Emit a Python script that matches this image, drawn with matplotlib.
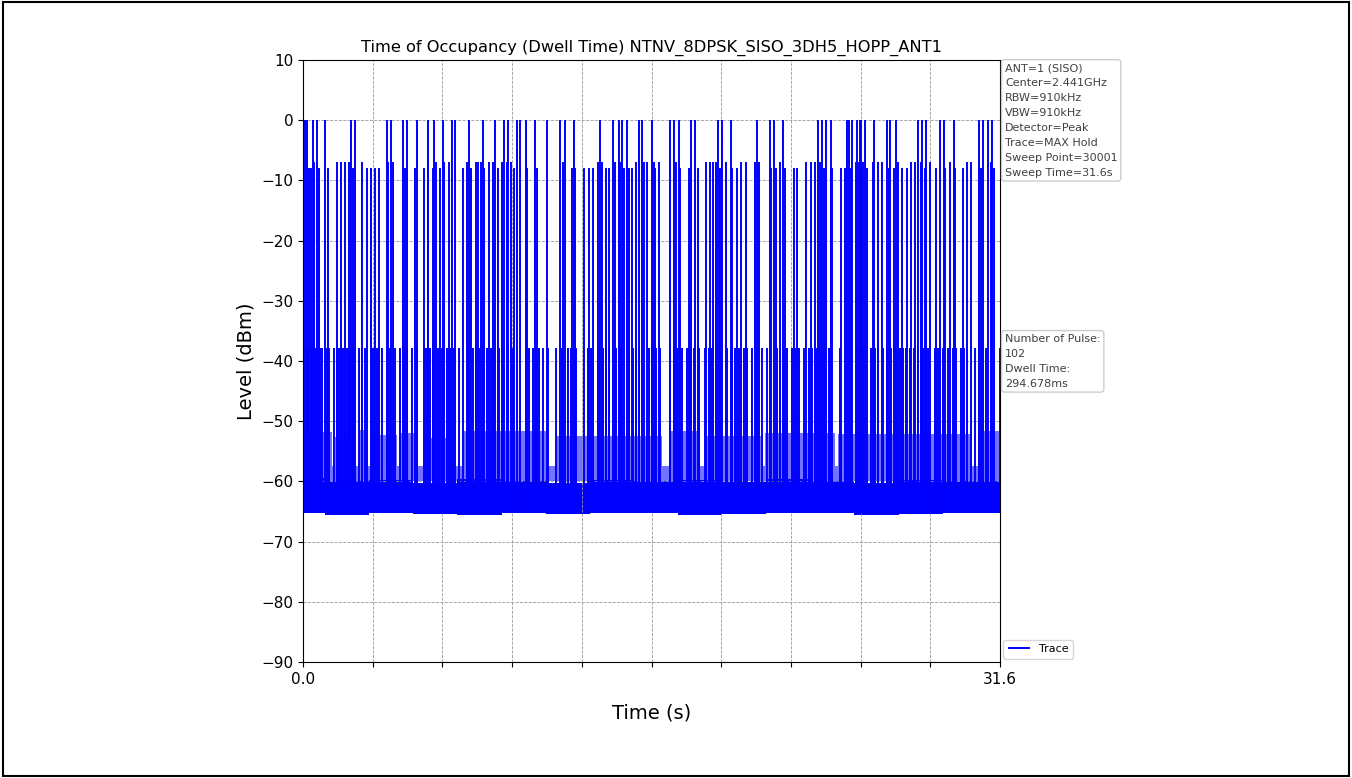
import numpy as np
import matplotlib
matplotlib.use('Agg')
import matplotlib.pyplot as plt
from matplotlib.patches import Rectangle

# Данные трассы (время в секундах, уровни в dBm)
sweep_time = 31.6

# импульсы на уровне 0 dBm
t_0dbm = [0.076, 0.196, 0.438, 0.650, 0.997, 2.161, 2.357, 3.793, 3.975, 4.549,
          4.730, 5.154, 5.683, 5.955, 6.363, 6.741, 6.907, 7.527,
          8.146, 8.705, 9.098, 9.310, 9.703, 9.854, 10.111, 10.534, 11.063, 11.667,
          11.879, 12.302, 13.481, 14.040, 14.312, 14.448, 14.675, 15.219, 15.355, 15.809,
          16.655, 16.806, 17.033, 17.607, 17.758, 18.801, 18.998, 19.406, 20.585, 21.189,
          21.371, 21.764, 23.336, 23.532, 23.713,
          23.955, 24.665, 24.741, 24.892, 25.119, 25.240, 25.315, 25.466, 25.874, 26.494,
          26.600, 26.902, 27.884, 28.066, 28.262, 28.867, 29.048, 29.502, 30.635, 30.832,
          31.058, 31.240]

# импульсы соседнего канала (около -7 / -8 dBm)
t_adj = [0.287, 0.363, 0.499, 0.725, 1.118, 1.526, 1.708, 1.889, 2.101, 2.282,
         2.690, 2.887, 3.098, 3.280, 3.446, 3.869, 4.065, 4.625, 5.078, 5.501,
         5.652, 5.879, 6.030, 6.211, 6.393, 6.635, 7.239, 7.420, 7.602, 7.844,
         7.920, 8.071, 8.222, 8.449, 8.630, 8.827, 9.008, 9.234, 9.431, 9.582,
         10.156, 10.610, 11.773, 12.181, 12.348, 12.756, 12.952, 13.164, 13.360, 13.542,
         13.738, 13.889, 14.161, 14.373, 14.569, 14.766, 14.917, 15.098, 15.476, 15.582,
         15.900, 15.975, 16.126, 16.912, 17.109, 17.486, 17.894, 18.287, 18.469, 18.575,
         18.726, 18.922, 19.179, 19.451, 19.678, 19.874, 20.086, 20.479, 20.660, 21.234,
         21.461, 21.643, 21.839, 22.247, 22.398, 22.821, 23.048, 23.230, 23.426, 23.607,
         23.925, 24.000, 24.378, 24.590, 24.832, 25.089, 25.194, 25.285, 25.391, 25.587,
         25.844, 26.071, 26.267, 26.570, 26.796, 26.978, 27.159, 27.386, 27.582, 27.764,
         28.005, 28.187, 28.413, 28.716, 29.094, 29.320, 29.547, 29.925, 30.121, 30.303,
         30.726, 31.179, 31.330]
lvl_adj = [-8, -8, -7, -8, -8, -7, -7, -7, -7, -8,
           -7, -8, -8, -8, -8, -7, -7, -8, -8, -8,
           -7, -8, -7, -8, -7, -7, -8, -7, -8, -7,
           -7, -7, -8, -7, -7, -8, -7, -7, -7, -8,
           -8, -8, -7, -8, -8, -8, -8, -8, -7, -7,
           -8, -8, -7, -7, -8, -8, -8, -7, -7, -7,
           -7, -8, -7, -7, -8, -8, -8, -7, -7, -7,
           -7, -8, -7, -8, -8, -7, -7, -7, -7, -8,
           -8, -7, -8, -8, -8, -7, -7, -7, -7, -8,
           -8, -8, -8, -8, -8, -7, -7, -7, -7, -8,
           -7, -7, -7, -8, -8, -7, -8, -8, -7, -7,
           -7, -8, -7, -8, -8, -7, -8, -8, -7, -7,
           -8, -7, -8]

# импульсы на уровне около -38 dBm
t_38 = [0.166, 0.242, 0.393, 0.544, 0.620, 0.771, 0.846, 1.073, 1.194, 1.421,
        1.526, 1.647, 1.753, 1.874, 1.980, 2.101, 2.207, 2.312, 2.554, 2.660,
        2.811, 3.113, 3.219, 3.370, 3.567, 3.823, 3.944, 4.171, 4.398, 4.579,
        4.730, 4.927, 5.184, 5.531, 5.637, 5.758, 5.909, 6.136, 6.287, 6.514,
        6.665, 6.846, 7.088, 7.496, 7.723, 7.844,
        7.995, 8.146, 8.343, 8.524, 8.675, 8.902, 9.053, 9.280, 9.506, 10.111,
        10.262, 10.413, 10.564, 10.715, 10.867, 11.093, 11.471, 11.743, 12.000, 12.151,
        12.378, 12.756, 12.907, 13.058, 13.436, 13.587, 13.738, 13.889, 14.191, 14.418,
        14.796, 14.947, 15.098, 15.249, 15.703,
        15.824, 16.005, 16.202, 16.655, 16.806, 16.957, 17.184, 17.411, 17.562, 17.713,
        17.940, 18.242, 18.393, 18.544, 19.224, 19.451, 19.602, 19.753, 19.980, 20.131,
        20.358, 20.585, 20.811, 21.038, 21.491, 21.643, 21.794, 21.945, 22.171, 22.322,
        22.474, 22.700, 22.927, 23.078, 23.305, 23.456, 23.607, 23.834,
        23.880, 24.333, 24.862, 25.134, 25.240, 25.391, 25.738, 25.920, 26.071, 26.298,
        26.494, 26.675, 26.902, 27.053, 27.204, 27.355, 27.507, 27.703, 27.885, 28.111,
        28.338, 28.640, 28.791, 29.018, 29.245, 29.471, 29.622, 29.819, 29.970, 30.454,
        30.983, 31.587]
lvl_38 = -37.8

# полоса около -52 dBm: границы участков и верх полосы на каждом участке
band_edges = [0.0, 1.30, 1.45, 2.36, 2.51, 2.89, 3.11, 4.25, 4.37, 5.15,
              5.45, 6.80, 7.19, 11.09, 11.47, 16.28, 16.61, 18.02, 18.24, 20.81,
              20.96, 24.11, 24.26, 30.30, 30.60, 31.6]
band_top = [-51.8, -57.5, -52.6, -57.5, -51.5, -57.5, -52.3, -57.5, -51.9, -57.5,
            -52.8, -57.5, -51.6, -57.5, -52.4, -57.5, -51.7, -57.5, -52.5, -57.5,
            -51.9, -57.5, -52.2, -57.5, -51.6, -51.6]

# шумовая полка (нижняя и верхняя огибающие)
floor_t = [0.0, 2.0, 4.0, 6.0, 8.0, 10.0, 12.0, 14.0, 16.0, 18.0,
           20.0, 22.0, 24.0, 26.0, 28.0, 30.0, 31.6]
floor_lo = [-65.3, -65.5, -65.2, -65.4, -65.6, -65.3, -65.4, -65.2, -65.3, -65.5,
            -65.4, -65.3, -65.2, -65.6, -65.4, -65.3, -65.3]
floor_hi = [-59.5, -60.0, -59.8, -60.2, -59.6, -59.9, -60.3, -59.7, -60.0, -59.8,
            -60.1, -59.6, -59.9, -60.2, -59.7, -60.0, -60.0]

info_text = ('ANT=1 (SISO)\nCenter=2.441GHz\nRBW=910kHz\nVBW=910kHz\n'
             'Detector=Peak\nTrace=MAX Hold\nSweep Point=30001\nSweep Time=31.6s')
pulse_text = 'Number of Pulse:\n102\nDwell Time:\n294.678ms'

fig = plt.figure(figsize=(13.52, 7.78), dpi=100)
ax = fig.add_axes([303 / 1352, 1 - 662 / 778, 697 / 1352, 602 / 778])

base = -65.3
ax.fill_between(band_edges, -60, band_top, step='post', color='blue', alpha=0.55, lw=0)
ax.fill_between(floor_t, floor_lo, floor_hi, step='mid', color='blue', lw=0)
ax.vlines(t_38, base, lvl_38, color='blue', lw=1.4)
ax.vlines(t_adj, base, lvl_adj, color='blue', lw=1.4)
ax.vlines(t_0dbm, base, 0, color='blue', lw=1.4, label='Trace')

ax.set_xlim(0, sweep_time)
ax.set_ylim(-90, 10)
ax.set_yticks(np.arange(-90, 11, 10))
xt = np.linspace(0, sweep_time, 11)
ax.set_xticks(xt)
ax.set_xticklabels(['0.0'] + [''] * 9 + ['31.6'])
ax.tick_params(labelsize=11)
ax.grid(True, ls='--', lw=0.6, color='0.6')

ax.set_title('Time of Occupancy (Dwell Time) NTNV_8DPSK_SISO_3DH5_HOPP_ANT1', fontsize=11.7)
ax.set_xlabel('Time (s)', fontsize=14, labelpad=12)
ax.set_ylabel('Level (dBm)', fontsize=14)

box = dict(boxstyle='round,pad=0.3', fc='white', ec='0.8')
ax.text(1.007, 0.995, info_text, transform=ax.transAxes, fontsize=8, va='top',
        ha='left', linespacing=1.62, color='0.25', bbox=box)
ax.text(1.007, 0.545, pulse_text, transform=ax.transAxes, fontsize=8, va='top',
        ha='left', linespacing=1.62, color='0.25', bbox=box)
ax.legend(loc='lower left', bbox_to_anchor=(1.0, 0.0), fontsize=8, borderaxespad=0.3)

# рамка вокруг всей картинки
fig.patches.append(Rectangle((0.002, 0.002), 0.996, 0.995, transform=fig.transFigure,
                             fill=False, ec='black', lw=1.5))

fig.savefig('out.png', dpi=100)
